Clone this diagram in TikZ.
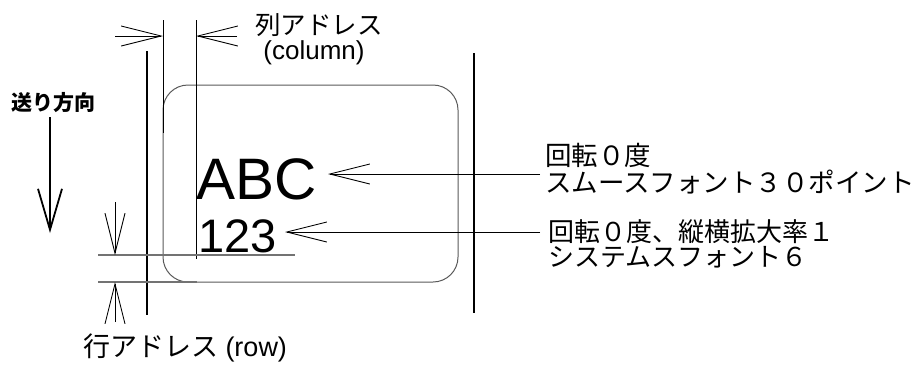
\documentclass[tikz,border=0pt]{standalone}
\usepackage{fontspec}
\setmainfont{Liberation Sans}
\newfontfamily\jp{Noto Sans CJK JP}
\usetikzlibrary{arrows.meta}
\tikzset{
  thick line/.style={line width=2.4pt, black},
  thin line/.style={line width=1pt, black},
  gray line/.style={line width=1.2pt, black!55},
  dimarrow/.style={line width=0.9pt, -{Straight Barb[length=40pt,width=20pt]}},
  feedarrow/.style={line width=1.8pt, -{Straight Barb[length=41pt,width=24pt]}},
  lbl/.style={inner sep=0pt, outer sep=0pt},
}
\begin{document}
\begin{tikzpicture}[x=1pt,y=-1pt]
\useasboundingbox (0,0) rectangle (920,365);
% frame lines
\draw[thick line] (147,51) -- (147,315);
\draw[thick line] (474,53) -- (474,313);
% label area
\draw[line width=1pt, black!65, rounded corners=25pt] (163,85) rectangle (458,282);
% column reference lines
\draw[thin line] (163,20) -- (163,133);
\draw[thin line] (196,20) -- (196,259);
% row reference lines
\draw[gray line] (98,255) -- (295,255);
\draw[gray line] (98,282) -- (197,282);
% coordinates
\coordinate (cL0) at (115,36);
\coordinate (cL1) at (163,36);
\coordinate (cR0) at (237,36);
\coordinate (cR1) at (196,36);
\coordinate (rU0) at (115,202);
\coordinate (rU1) at (115,255);
\coordinate (rD0) at (115,322);
\coordinate (rD1) at (115,282);
\coordinate (f0) at (50,117);
\coordinate (f1) at (50,233);
\coordinate (a0) at (540,174);
\coordinate (a1) at (328,174);
\coordinate (n0) at (540,232);
\coordinate (n1) at (285,232);
% arrows
\draw[dimarrow] (cL0) -- (cL1);
\draw[dimarrow] (cR0) -- (cR1);
\draw[dimarrow] (rU0) -- (rU1);
\draw[dimarrow] (rD0) -- (rD1);
\draw[feedarrow] (f0) -- (f1);
\draw[dimarrow] (a0) -- (a1);
\draw[dimarrow] (n0) -- (n1);
% texts
\node[lbl] (col) at (319,25) {\jp\fontsize{25.5}{25.5}\selectfont 列アドレス};
\node[lbl] (colen) at (314,53) {\fontsize{26}{26}\selectfont (column)};
\node[lbl] (feed) at (54,103) {\jp\bfseries\fontsize{21}{21}\selectfont 送り方向};
\node[lbl, anchor=base west] (abc) at (196,199) {\fontsize{58.5}{58.5}\selectfont ABC};
\node[lbl, anchor=base west] (num) at (198,252) {\fontsize{47}{47}\selectfont 123};
\node[lbl, anchor=west] (t1) at (545,155) {\jp\fontsize{26.5}{26.5}\selectfont 回転０度};
\node[lbl, anchor=west] (t2) at (545,182) {\jp\fontsize{26.5}{26.5}\selectfont スムースフォント３０ポイント};
\node[lbl, anchor=west] (t3) at (548,232) {\jp\fontsize{26}{26}\selectfont 回転０度、縦横拡大率１};
\node[lbl, anchor=west] (t4) at (548,257) {\jp\fontsize{26}{26}\selectfont システムスフォント６};
\node[lbl] (row) at (185,348) {\fontsize{27}{27}\selectfont{\jp 行アドレス} (row)};
\end{tikzpicture}
\end{document}
